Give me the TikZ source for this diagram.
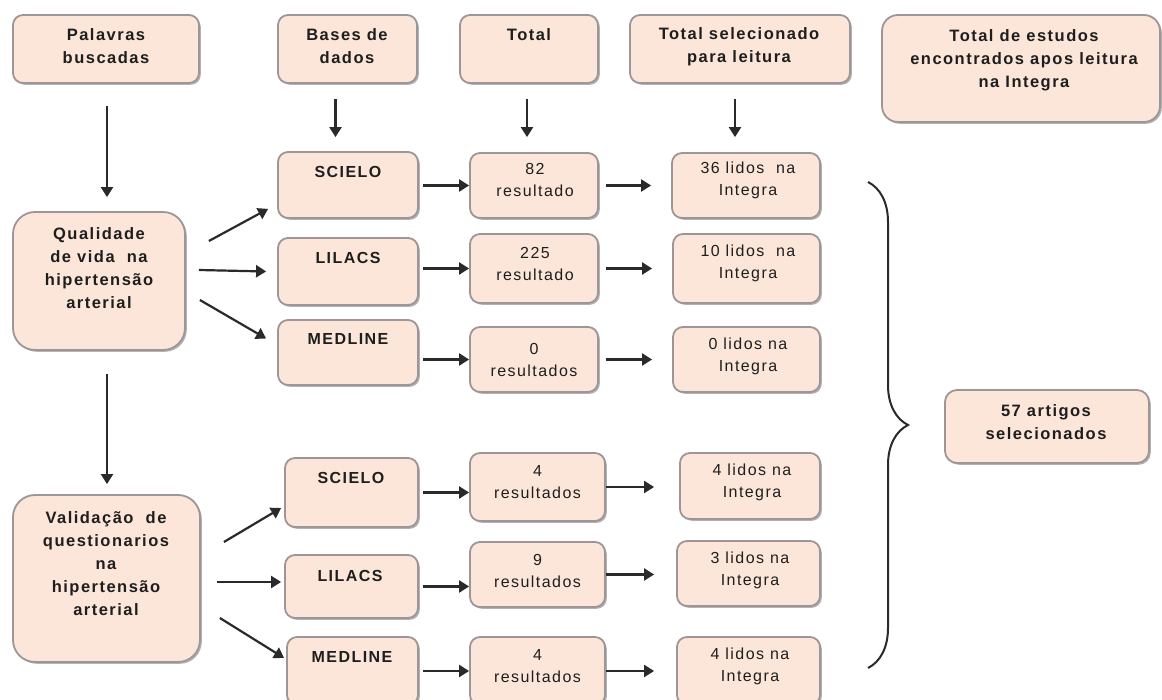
\documentclass[tikz,border=0pt]{standalone}
\usepackage{fontspec}
\setmainfont{Liberation Sans}[LetterSpace=9]
\usetikzlibrary{arrows.meta,shadows,decorations.pathreplacing}
\definecolor{boxfill}{HTML}{FCE6D9}
\definecolor{boxline}{HTML}{9E9696}
\definecolor{ink}{HTML}{1E1E1E}
\definecolor{arrowc}{HTML}{2A2A2A}
\tikzset{
 box/.style={draw=boxline, line width=1.8pt, fill=boxfill, rounded corners=10pt, inner sep=0pt,
   drop shadow={shadow xshift=1.8pt, shadow yshift=-1.8pt, fill=black, opacity=0.3}},
 bigbox/.style={box, rounded corners=22pt},
 hdr/.style={text=ink, align=center, inner sep=0pt, font=\fontsize{16.5}{23}\selectfont\bfseries},
 basetxt/.style={hdr, font=\fontsize{16}{22}\selectfont\bfseries},
 res/.style={text=ink, align=center, inner sep=0pt, font=\fontsize{16}{22}\selectfont},
 arr/.style={draw=arrowc, line width=2.2pt, -{Triangle[length=10pt,width=12pt]}},
 bracestyle/.style={draw=arrowc, line width=2pt, decorate, decoration={brace, amplitude=40pt}}
}
\newcommand\rbox[6]{\node[#6, minimum width={#4-#2}, minimum height={#5-#3}] (#1) at ({(#2+#4)/2},{(#3+#5)/2}) {};}
\begin{document}
\begin{tikzpicture}[x=1pt,y=-1pt]
\useasboundingbox (0,0) rectangle (1162,700);
\fill[white] (0,0) rectangle (1162,700);
\clip (0,0) rectangle (1162,700);

% headers
\rbox{hPal}{13}{15}{199}{83}{box}
\node[hdr] (hPalT) at (106,46.5) {Palavras\\buscadas};
\rbox{hBas}{278}{15}{417}{83}{box}
\node[hdr] (hBasT) at (347,46.5) {Bases de\\dados};
\rbox{hTot}{460}{15}{598}{83}{box}
\node[hdr] (hTotT) at (529,35) {Total};
\rbox{hSel}{630}{15}{850}{83}{box}
\node[hdr] (hSelT) at (739,46.5) {Total selecionado\\para leitura};
\rbox{hEst}{882}{15}{1160}{122}{box, rounded corners=16pt}
\node[hdr] (hEstT) at (1024,60) {Total de estudos\\encontrados apos leitura\\na Integra};

% search terms
\rbox{qual}{13}{212}{185}{350}{bigbox}
\node[hdr] (qualT) at (99,268.5) {Qualidade\\de vida\ \ na\\hipertensão\\arterial};
\rbox{val}{13}{495}{200}{662}{bigbox}
\node[hdr] (valT) at (106,563.5) {Validação\ \ de\\questionarios\\na\\hipertensão\\arterial};

% databases
\rbox{b1}{278}{152}{418}{218}{box}
\node[basetxt] (b1T) at (348,172) {SCIELO};
\rbox{b2}{278}{238}{418}{305}{box}
\node[basetxt] (b2T) at (348,258) {LILACS};
\rbox{b3}{278}{320}{418}{385}{box}
\node[basetxt] (b3T) at (348,339) {MEDLINE};
\rbox{b4}{285}{458}{418}{527}{box}
\node[basetxt] (b4T) at (351,478) {SCIELO};
\rbox{b5}{285}{555}{418}{618}{box}
\node[basetxt] (b5T) at (350,576) {LILACS};
\rbox{b6}{287}{637}{418}{705}{box}
\node[basetxt] (b6T) at (352,657) {MEDLINE};

% totals
\rbox{t1}{470}{153}{598}{218}{box}
\node[res] (t1T) at (535,180) {82\\resultado};
\rbox{t2}{470}{234}{598}{303}{box}
\node[res] (t2T) at (535,263.5) {225\\resultado};
\rbox{t3}{470}{327}{598}{392}{box}
\node[res] (t3T) at (534,359.5) {0\\resultados};
\rbox{t4}{470}{453}{605}{521}{box}
\node[res] (t4T) at (537.5,482) {4\\resultados};
\rbox{t5}{470}{542}{605}{607}{box}
\node[res] (t5T) at (537.5,570.5) {9\\resultados};
\rbox{t6}{470}{637}{605}{705}{box}
\node[res] (t6T) at (537.5,666.5) {4\\resultados};

% selected
\rbox{s1}{672}{153}{820}{218}{box}
\node[res] (s1T) at (748,180) {36 lidos\ \ na\\Integra};
\rbox{s2}{673}{234}{820}{303}{box}
\node[res] (s2T) at (748,263.5) {10 lidos\ \ na\\Integra};
\rbox{s3}{673}{327}{820}{392}{box}
\node[res] (s3T) at (748,356) {0 lidos na\\Integra};
\rbox{s4}{680}{453}{820}{519}{box}
\node[res] (s4T) at (752,482) {4 lidos na\\Integra};
\rbox{s5}{677}{541}{820}{606}{box}
\node[res] (s5T) at (750,570.5) {3 lidos na\\Integra};
\rbox{s6}{677}{637}{820}{705}{box}
\node[res] (s6T) at (750,666.5) {4 lidos na\\Integra};

% result
\rbox{fin}{945}{390}{1149}{463}{box, rounded corners=12pt}
\node[hdr] (finT) at (1046,422) {57 artigos\\selecionados};

% vertical arrows
\draw[arr] ([shift={(1,22)}]hPal.south) -- ([shift={(1,-14)}]hPal.south |- qual.north);
\draw[arr] ([shift={(8,23)}]qual.south) -- ([shift={(8,-10)}]qual.south |- val.north);
\draw[arr] ([shift={(-12,15)}]hBas.south) -- ([shift={(-12,-14)}]hBas.south |- b1.north);
\draw[arr] ([shift={(-2,15)}]hTot.south) -- ([shift={(-2,-15)}]hTot.south |- t1.north);
\draw[arr] ([shift={(-5,15)}]hSel.south) -- ([shift={(-5,-15)}]hSel.south |- s1.north);

% row arrows upper
\draw[arr, shorten <=4pt] (t1.west -| b1.east) -- (t1.west);
\draw[arr, shorten <=7pt, shorten >=20pt] (t1.east) -- (t1.east -| s1.west);
\draw[arr, shorten <=4pt] (t2.west -| b2.east) -- (t2.west);
\draw[arr, shorten <=7pt, shorten >=20pt] (t2.east) -- (t2.east -| s2.west);
\draw[arr, shorten <=4pt] (t3.west -| b3.east) -- (t3.west);
\draw[arr, shorten <=7pt, shorten >=20pt] (t3.east) -- (t3.east -| s3.west);
% row arrows lower
\draw[arr, shorten <=4pt] (b4.east) -- (b4.east -| t4.west);
\draw[arr, shorten >=25pt] (t4.east) -- (t4.east -| s4.west);
\draw[arr, shorten <=4pt] (b5.east) -- (b5.east -| t5.west);
\draw[arr, shorten >=22pt] (t5.east) -- (t5.east -| s5.west);
\draw[arr, shorten <=4pt] (b6.east) -- (b6.east -| t6.west);
\draw[arr, shorten >=22pt] (t6.east) -- (t6.east -| s6.west);

% diagonal arrows
\draw[arr] ([shift={(23,-40)}]qual.east) -- ([shift={(-9,-10)}]b1.south west);
\draw[arr] ([shift={(13,-11)}]qual.east) -- ([shift={(-11,0)}]b2.west);
\draw[arr] ([shift={(14,19)}]qual.east) -- ([shift={(-11,-14)}]b3.west);
\draw[arr] ([shift={(23,-36.5)}]val.east) -- ([shift={(-3,15.5)}]b4.west);
\draw[arr] ([shift={(16,3.5)}]val.east) -- ([shift={(-3,-4.5)}]b5.west);
\draw[arr] ([shift={(19,39.5)}]val.east) -- ([shift={(-2,-13)}]b6.west);

% brace
\coordinate (brTop) at (868,182);
\coordinate (brBot) at (868,668);
\draw[bracestyle] (brTop) -- (brBot);
\end{tikzpicture}
\end{document}
